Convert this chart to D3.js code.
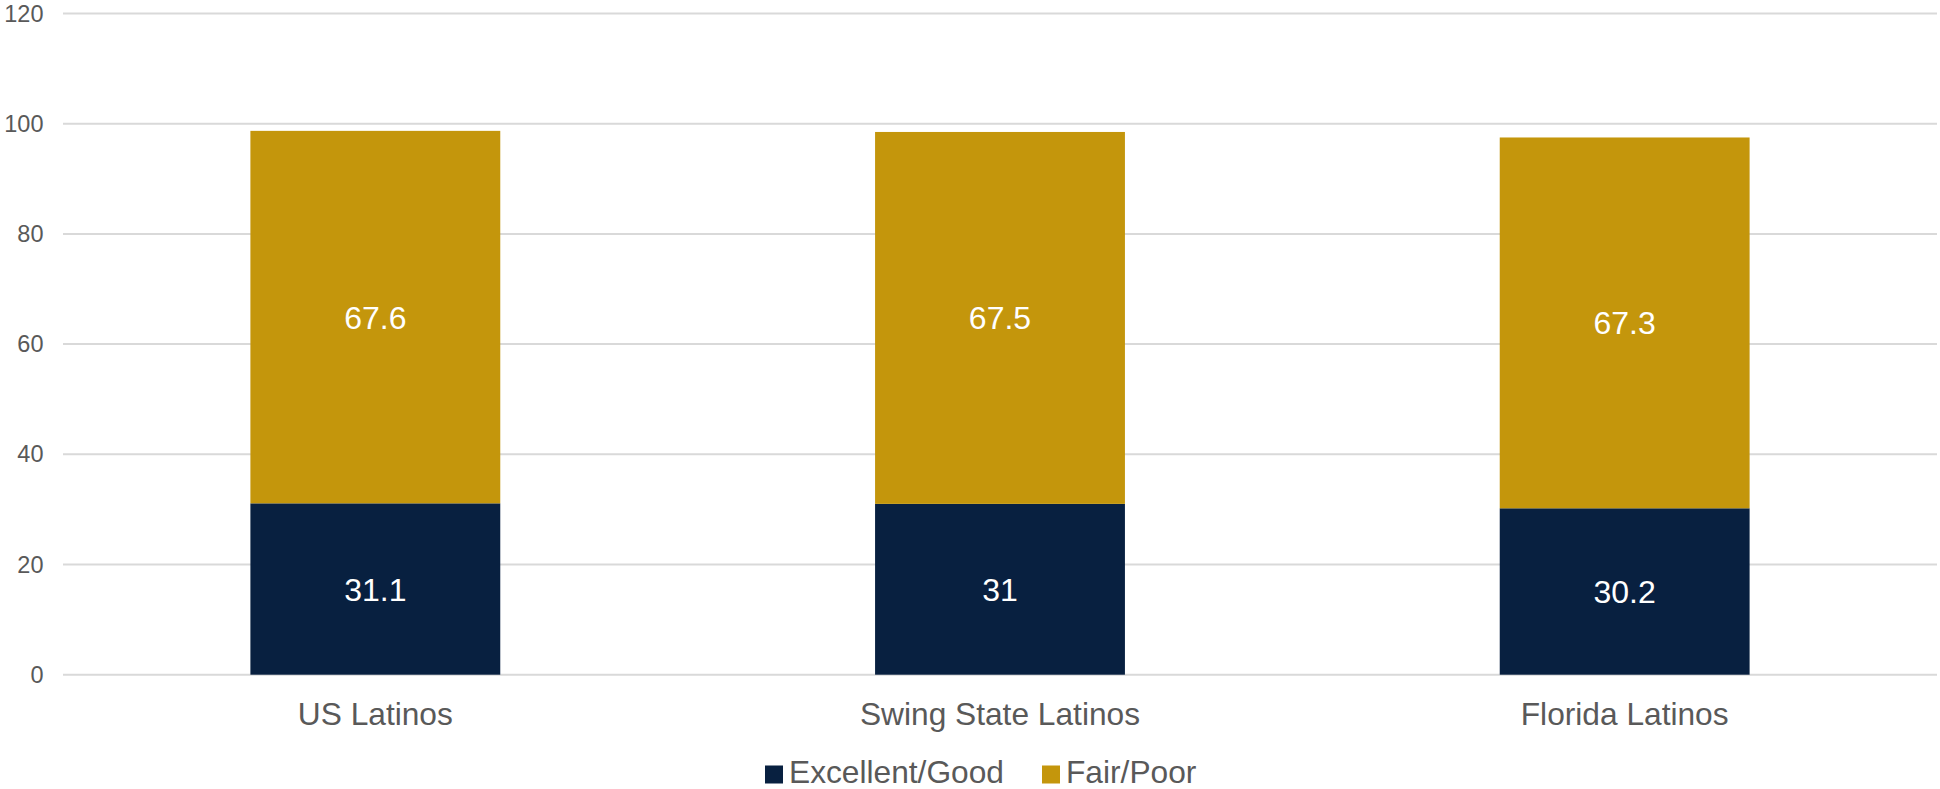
<!DOCTYPE html>
<html><head><meta charset="utf-8">
<script src="https://cdn.jsdelivr.net/npm/d3@7"></script>
<style>body{margin:0;background:#fff}svg{display:block}text{font-family:"Liberation Sans",Arial,sans-serif}</style>
</head><body>
<svg id="c" width="1940" height="789"></svg>
<script>
const categories = ["US Latinos", "Swing State Latinos", "Florida Latinos"];
const excellentGood = [31.1, 31, 30.2];
const fairPoor = [67.6, 67.5, 67.3];
const yTicks = [0, 20, 40, 60, 80, 100, 120];
const seriesNames = ["Excellent/Good", "Fair/Poor"];
const colors = ["#082040", "#C4960C"];

const svg = d3.select("#c");
const x = d3.scaleBand().domain(categories).range([63, 1937]).paddingInner(0.6).paddingOuter(0.3);
const y = d3.scaleLinear().domain([0, 120]).range([674.7, 13.5]);

// gridlines
svg.append("g").selectAll("line").data(yTicks).join("line")
  .attr("x1", 63).attr("x2", 1937)
  .attr("y1", d => y(d)).attr("y2", d => y(d))
  .attr("stroke", "#d9d9d9").attr("stroke-width", 2);

// y labels
const yAxis = d3.axisLeft(y).tickValues(yTicks).tickSize(0).tickPadding(0);
const ya = svg.append("g").attr("transform", "translate(43.5,0)").call(yAxis);
ya.select(".domain").remove();
ya.selectAll("text").attr("font-size", 23.5).attr("fill", "#595959")
  .attr("font-family", '"Liberation Sans",Arial,sans-serif');

const rows = categories.map((c, i) => ({cat: c, vals: [excellentGood[i], fairPoor[i]]}));
const segs = [];
rows.forEach(r => { let b = 0; r.vals.forEach((v, k) => { segs.push({cat: r.cat, k, y0: b, y1: b + v, v}); b += v; }); });

svg.append("g").selectAll("rect").data(segs).join("rect")
  .attr("x", d => x(d.cat)).attr("width", x.bandwidth())
  .attr("y", d => y(d.y1)).attr("height", d => y(d.y0) - y(d.y1))
  .attr("fill", d => colors[d.k]);

svg.append("g").selectAll("text").data(segs).join("text")
  .attr("x", d => x(d.cat) + x.bandwidth() / 2)
  .attr("y", d => y((d.y0 + d.y1) / 2))
  .attr("dy", "0.36em")
  .attr("text-anchor", "middle").attr("font-size", 32).attr("fill", "#fff")
  .text(d => d.v);

// x labels
const xAxis = d3.axisBottom(x).tickSize(0).tickPadding(0);
const xa = svg.append("g").attr("transform", "translate(0,724.5)").call(xAxis);
xa.select(".domain").remove();
xa.selectAll("text").attr("dy", 0).attr("font-size", 31.7).attr("fill", "#595959")
  .attr("font-family", '"Liberation Sans",Arial,sans-serif');

// legend
const legX = [765, 1042];
const lg = svg.append("g").selectAll("g").data(seriesNames).join("g")
  .attr("transform", (d, i) => `translate(${legX[i]},0)`);
lg.append("rect").attr("x", 0).attr("y", 765.5).attr("width", 18).attr("height", 18).attr("fill", (d, i) => colors[i]);
lg.append("text").attr("x", 24).attr("y", 782.5).attr("font-size", 31.7).attr("fill", "#595959").text(d => d);
</script>
</body></html>
